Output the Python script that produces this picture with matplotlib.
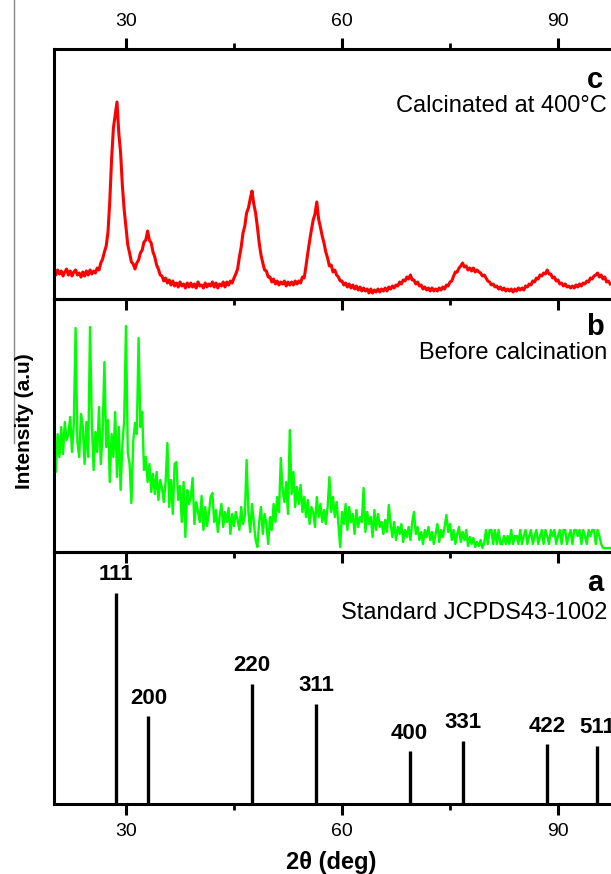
import matplotlib
matplotlib.use('Agg')
import matplotlib.pyplot as plt
import numpy as np
from matplotlib.lines import Line2D
from matplotlib.ticker import MultipleLocator

plt.rcParams['font.family'] = ['Liberation Sans', 'DejaVu Sans']

# 2theta grid of the scans (deg)
step = 0.25
start = 20.0

# c: calcinated at 400 C (a.u.)
red_y = [
    30, 24, 29, 25,   # 20
    28, 23, 27, 30,   # 21
    24, 28, 23, 27,   # 22
    29, 24, 26, 22,   # 23
    27, 23, 28, 24,   # 24
    29, 25, 28, 26,   # 25
    31, 29, 36, 40,   # 26
    47, 53, 67, 98,   # 27
    140, 171, 184, 197,  # 28
    166, 146, 113, 89,   # 29
    71, 54, 46, 37,   # 30
    35, 30, 36, 39,   # 31
    46, 49, 57, 59,   # 32
    68, 59, 56, 47,   # 33
    42, 34, 30, 24,   # 34
    23, 18, 21, 16,   # 35
    19, 14, 18, 13,   # 36
    16, 12, 17, 13,   # 37
    15, 11, 16, 12,   # 38
    16, 12, 15, 11,   # 39
    17, 13, 14, 11,   # 40
    16, 12, 15, 13,   # 41
    17, 12, 16, 11,   # 42
    15, 13, 17, 12,   # 43
    17, 14, 18, 16,   # 44
    21, 25, 30, 42,   # 45
    52, 66, 73, 86,   # 46
    91, 100, 108, 95,  # 47
    86, 72, 56, 44,   # 48
    36, 29, 28, 22,   # 49
    22, 17, 20, 15,   # 50
    18, 14, 17, 15,   # 51
    18, 13, 17, 14,   # 52
    17, 14, 18, 15,   # 53
    18, 16, 22, 21,   # 54
    33, 46, 58, 69,   # 55
    79, 85, 97, 80,   # 56
    72, 63, 56, 47,   # 57
    41, 33, 34, 27,   # 58
    29, 24, 22, 18,   # 59
    18, 14, 16, 12,   # 60
    15, 11, 14, 10,   # 61
    13, 9, 12, 8,     # 62
    11, 8, 10, 6,     # 63
    10, 6, 9, 7,      # 64
    10, 7, 10, 8,     # 65
    11, 8, 12, 10,    # 66
    13, 11, 14, 13,   # 67
    17, 15, 19, 18,   # 68
    22, 20, 24, 19,   # 69
    19, 15, 17, 13,   # 70
    14, 10, 12, 9,    # 71
    11, 8, 11, 8,     # 72
    10, 8, 11, 9,     # 73
    12, 10, 14, 13,   # 74
    17, 18, 23, 27,   # 75
    27, 31, 33, 36,   # 76
    32, 33, 29, 31,   # 77
    28, 31, 27, 29,   # 78
    27, 26, 23, 24,   # 79
    21, 18, 17, 14,   # 80
    15, 12, 13, 10,   # 81
    12, 9, 11, 8,     # 82
    10, 8, 10, 7,     # 83
    10, 8, 11, 9,     # 84
    11, 9, 13, 12,    # 85
    15, 14, 18, 17,   # 86
    21, 20, 24, 23,   # 87
    26, 25, 29, 25,   # 88
    25, 21, 22, 18,   # 89
    19, 15, 16, 13,   # 90
    15, 12, 13, 11,   # 91
    13, 11, 14, 12,   # 92
    15, 13, 16, 15,   # 93
    18, 17, 21, 20,   # 94
    23, 24, 26, 22,   # 95
    24, 20, 22, 17,   # 96
    18, 15,           # 97
]

# b: before calcination (a.u.)
green_y = [
    105, 80, 118, 95,    # 20
    125, 98, 130, 112,   # 21
    118, 135, 100, 128,  # 22
    224, 110, 95, 138,   # 23
    125, 88, 130, 95,    # 24
    225, 130, 82, 120,   # 25
    100, 145, 88, 118,   # 26
    190, 105, 132, 70,   # 27
    118, 95, 140, 75,    # 28
    125, 62, 108, 132,   # 29
    226, 99, 88, 49,     # 30
    110, 129, 118, 214,  # 31
    125, 140, 82, 95,    # 32
    70, 88, 60, 78,      # 33
    58, 80, 52, 72,      # 34
    64, 50, 70, 109,     # 35
    45, 72, 38, 88,      # 36
    90, 52, 66, 30,      # 37
    70, 15, 62, 48,      # 38
    55, 74, 28, 50,      # 39
    40, 30, 56, 22,      # 40
    45, 26, 38, 55,      # 41
    59, 30, 42, 20,      # 42
    35, 48, 25, 40,      # 43
    30, 44, 18, 38,      # 44
    26, 40, 32, 22,      # 45
    45, 28, 36, 92,      # 46
    40, 20, 48, 30,      # 47
    12, 5, 30, 45,       # 48
    18, 38, 28, 8,       # 49
    35, 22, 48, 30,      # 50
    55, 40, 94, 62,      # 51
    50, 70, 38, 122,     # 52
    58, 80, 45, 65,      # 53
    48, 67, 40, 55,      # 54
    35, 52, 28, 45,      # 55
    40, 25, 55, 35,      # 56
    48, 30, 42, 28,      # 57
    45, 75, 40, 55,      # 58
    35, 50, 28, 5,       # 59
    40, 28, 48, 22,      # 60
    45, 30, 38, 18,      # 61
    42, 25, 35, 30,      # 62
    64, 20, 40, 28,      # 63
    35, 15, 42, 22,      # 64
    38, 25, 30, 18,      # 65
    32, 20, 47, 28,      # 66
    15, 30, 12, 25,      # 67
    18, 28, 10, 22,      # 68
    15, 25, 12, 30,      # 69
    40, 18, 25, 12,      # 70
    20, 8, 22, 15,       # 71
    25, 12, 20, 8,       # 72
    18, 28, 10, 22,      # 73
    15, 25, 37, 20,      # 74
    28, 12, 22, 8,       # 75
    18, 25, 10, 20,      # 76
    12, 22, 6, 15,       # 77
    8, 14, 5, 10,        # 78
    6, 12, 4, 9,         # 79
    22, 8, 22, 22,       # 80
    8, 22, 8, 22,        # 81
    8, 8, 16, 8,         # 82
    16, 8, 22, 8,        # 83
    16, 16, 8, 22,       # 84
    8, 16, 22, 8,        # 85
    16, 22, 8, 16,       # 86
    22, 8, 16, 22,       # 87
    8, 22, 16, 8,        # 88
    22, 16, 22, 8,       # 89
    16, 22, 8, 22,       # 90
    22, 8, 16, 22,       # 91
    8, 22, 22, 16,       # 92
    22, 8, 22, 16,       # 93
    8, 22, 16, 22,       # 94
    22, 8, 22, 16,       # 95
    8, 4, 4, 4,          # 96
    4, 4,                # 97
]

# a: standard JCPDS 43-1002 reflections
hkl = ['111', '200', '220', '311', '400', '331', '422', '511']
hkl_pos = [28.6, 33.1, 47.5, 56.4, 69.4, 76.8, 88.5, 95.4]
hkl_int = [100, 41.7, 56.9, 47.4, 25.1, 29.9, 28.4, 27.5]

x_red = start + step * np.arange(len(red_y))
x_green = start + step * np.arange(len(green_y))

fig = plt.figure(figsize=(6.11, 8.74), dpi=100)
W, H = 611.0, 874.0
left = 54 / W
width = 80 * 7.2 / W   # 20..100 deg, right part falls outside the picture

ax_c = fig.add_axes([left, (H - 299) / H, width, 250 / H])
ax_b = fig.add_axes([left, (H - 552) / H, width, 253 / H])
ax_a = fig.add_axes([left, (H - 804) / H, width, 252 / H])

ax_c.plot(x_red, red_y, color='#ff0000', lw=2.2)
ax_c.set_ylim(0, 250)
ax_b.plot(x_green, green_y, color='#00ff00', lw=1.7)
ax_b.set_ylim(0, 253)

for p, h, lab in zip(hkl_pos, hkl_int, hkl):
    ax_a.plot([p, p], [0, h], color='black', lw=2.4, solid_capstyle='butt')
    ax_a.annotate(lab, (p, h), xytext=(0, 9), textcoords='offset points',
                  ha='center', va='baseline', fontsize=16, fontweight='bold')
ax_a.set_ylim(0, 100 * 252 / 211)

panels = [
    (ax_c, 'c', 'Calcinated at 400°C', 0.876, 0.772),
    (ax_b, 'b', 'Before calcination', 0.889, 0.787),
    (ax_a, 'a', 'Standard JCPDS43-1002', 0.877, 0.758),
]
for ax, letter, desc, yl, yd in panels:
    tr = ax.get_xaxis_transform()
    ax.text(96.3, yl, letter, transform=tr, ha='right', va='center',
            fontsize=21, fontweight='bold')
    ax.text(96.8, yd, desc, transform=tr, ha='right', va='center',
            fontsize=17)
    ax.set_xlim(20, 100)
    ax.set_yticks([])
    ax.patch.set_visible(False)
    ax.xaxis.set_major_locator(MultipleLocator(30))
    ax.xaxis.set_minor_locator(MultipleLocator(15))
    for s in ax.spines.values():
        s.set_linewidth(2.2)
    ax.tick_params(axis='x', which='major', direction='out', length=8,
                   width=2.2, labelsize=14, pad=6, top=False, labelbottom=False)
    ax.tick_params(axis='x', which='minor', direction='out', length=4,
                   width=2.0, top=False)

ax_c.tick_params(axis='x', which='both', top=True)
ax_c.tick_params(axis='x', which='major', labeltop=True)
ax_a.tick_params(axis='x', which='major', labelbottom=True)
ax_a.set_xticks([30, 60, 90])

fig.text(331 / W, 1 - 862 / H, '2θ (deg)', ha='center', va='center',
         fontsize=17, fontweight='bold')
fig.text(25 / W, 1 - 421 / H, 'Intensity (a.u)', ha='center', va='center',
         rotation=90, fontsize=15, fontweight='bold')

# thin grey rule at the far left of the page
fig.add_artist(Line2D([14 / W, 14 / W], [1.0, 1 - 443 / H],
                      color='#888888', lw=1.0))

fig.savefig('out.png', dpi=100)
